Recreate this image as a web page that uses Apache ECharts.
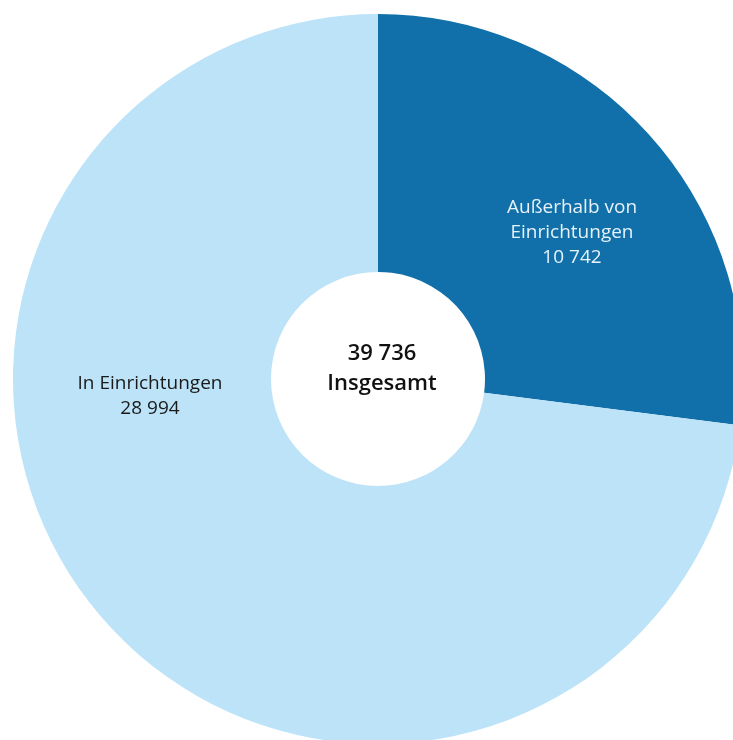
<!DOCTYPE html>
<html>
<head>
<meta charset="utf-8">
<script src="https://cdn.jsdelivr.net/npm/echarts@6/dist/echarts.min.js"></script>
<style>
  html, body { margin: 0; padding: 0; background: #fff; }
  #chart { width: 733px; height: 740px; }
</style>
</head>
<body>
<div id="chart"></div>
<script>
const categories = ["Außerhalb von\nEinrichtungen", "In Einrichtungen"];
const values = [10742, 28994];
const colors = ["#1170a9", "#bce3f8"];
const labelColors = ["#e6f1f9", "#1a1a1a"];
// where each label sits (chart pixels)
const labelPos = [[572, 233], [150, 396]];

function fmt(n) {
  return String(n).replace(/\B(?=(\d{3})+(?!\d))/g, " ");
}
const total = values.reduce((a, b) => a + b, 0);

const chart = echarts.init(document.getElementById("chart"));
chart.setOption({
  animation: false,
  title: {
    text: fmt(total) + "\nInsgesamt",
    left: 377,
    top: 334,
    textAlign: "center",
    textStyle: {
      fontFamily: "Open Sans",
      fontSize: 22,
      fontWeight: 600,
      lineHeight: 30,
      color: "#111"
    }
  },
  series: [
    {
      type: "pie",
      center: [378, 379],
      radius: [107, 365],
      startAngle: 90,
      clockwise: true,
      silent: true,
      itemStyle: { borderWidth: 0 },
      label: {
        show: true,
        position: "inside",
        fontFamily: "Open Sans",
        fontSize: 19,
        lineHeight: 25,
        align: "center",
        formatter: p => p.name + "\n" + fmt(p.value)
      },
      labelLine: { show: false },
      labelLayout: p => ({ x: labelPos[p.dataIndex][0], y: labelPos[p.dataIndex][1] }),
      data: categories.map((c, i) => ({
        name: c,
        value: values[i],
        itemStyle: { color: colors[i] },
        label: { color: labelColors[i] }
      }))
    }
  ]
});
</script>
</body>
</html>
